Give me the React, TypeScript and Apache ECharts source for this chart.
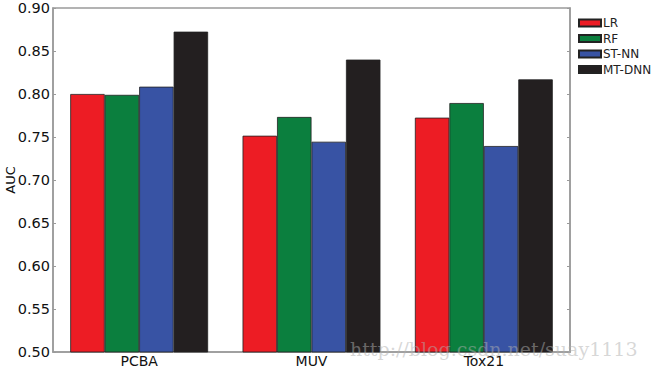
import React, { useEffect, useRef } from "react";
import * as echarts from "echarts";

const categories = ["PCBA", "MUV", "Tox21"];
const seriesNames = ["LR", "RF", "ST-NN", "MT-DNN"];
const lrValues = [0.8, 0.7515, 0.7725];
const rfValues = [0.799, 0.7733, 0.7895];
const stnnValues = [0.8085, 0.7445, 0.7395];
const mtdnnValues = [0.8725, 0.84, 0.817];
const colors = ["#ED1C24", "#0B7F3E", "#3853A4", "#231F20"];
const yTicks = [0.5, 0.55, 0.6, 0.65, 0.7, 0.75, 0.8, 0.85, 0.9];

export default function App() {
  const ref = useRef<HTMLDivElement>(null);
  useEffect(() => {
    if (!ref.current) return;
    const chart = echarts.init(ref.current, null, { renderer: "svg" });
    const allValues = [lrValues, rfValues, stnnValues, mtdnnValues];
    const font = "DejaVu Sans";
    chart.setOption({
      animation: false,
      textStyle: { fontFamily: font },
      grid: {
        left: 53,
        right: 84,
        top: 8,
        bottom: 16,
        outerBoundsMode: "none",
        containLabel: false,
        show: true,
        borderColor: "#9a9a9a",
        borderWidth: 1.5,
        backgroundColor: "#fff",
      },
      legend: {
        orient: "vertical",
        left: 578,
        top: 17,
        padding: 0,
        itemWidth: 22,
        itemHeight: 7,
        itemGap: 3.5,
        icon: "rect",
        data: seriesNames,
        textStyle: { fontFamily: font, fontSize: 12, lineHeight: 12, color: "#222", padding: [0, 0, 0, -3] },
      },
      xAxis: {
        type: "category",
        data: categories,
        axisLine: { show: true, lineStyle: { color: "#9a9a9a", width: 1.5 } },
        axisTick: { show: false },
        axisLabel: { fontFamily: font, fontSize: 14, color: "#111", margin: 2 },
      },
      yAxis: [
        {
          type: "value",
          min: 0.5,
          max: 0.9,
          interval: 0.05,
          name: "AUC",
          nameLocation: "middle",
          nameGap: 36,
          nameMoveOverlap: false,
          nameTextStyle: { fontFamily: font, fontSize: 13, color: "#111" },
          axisLine: { show: true, lineStyle: { color: "#9a9a9a", width: 1.5 } },
          axisTick: { show: true, inside: true, length: 3, lineStyle: { color: "#9a9a9a" } },
          splitLine: { show: false },
          axisLabel: {
            fontFamily: font,
            fontSize: 14.5,
            color: "#111",
            margin: 3,
            formatter: (v: number) => {
              const t = yTicks.find((x) => Math.abs(x - v) < 1e-6);
              return (t ?? v).toFixed(2);
            },
          },
        },
        {
          type: "value",
          position: "right",
          min: 0.5,
          max: 0.9,
          interval: 0.05,
          axisLine: { show: true, lineStyle: { color: "#9a9a9a", width: 1.5 } },
          axisTick: { show: true, inside: true, length: 3, lineStyle: { color: "#9a9a9a" } },
          splitLine: { show: false },
          axisLabel: { show: false },
        },
      ],
      series: seriesNames.map((name, i) => ({
        name,
        type: "bar",
        data: allValues[i],
        barGap: "0%",
        barCategoryGap: "20%",
        itemStyle: { color: colors[i], borderColor: "#222", borderWidth: 0.8 },
      })),
      graphic: [
        {
          type: "text",
          left: 350,
          top: 339,
          style: {
            text: "http://blog.csdn.net/suay1113",
            font: "19px 'DejaVu Serif'",
            fill: "rgba(175,175,175,0.5)",
          },
          z: 100,
        },
      ],
    });
    return () => chart.dispose();
  }, []);
  return <div ref={ref} style={{ width: 654, height: 368, position: "absolute", left: 0, top: 0 }} />;
}
